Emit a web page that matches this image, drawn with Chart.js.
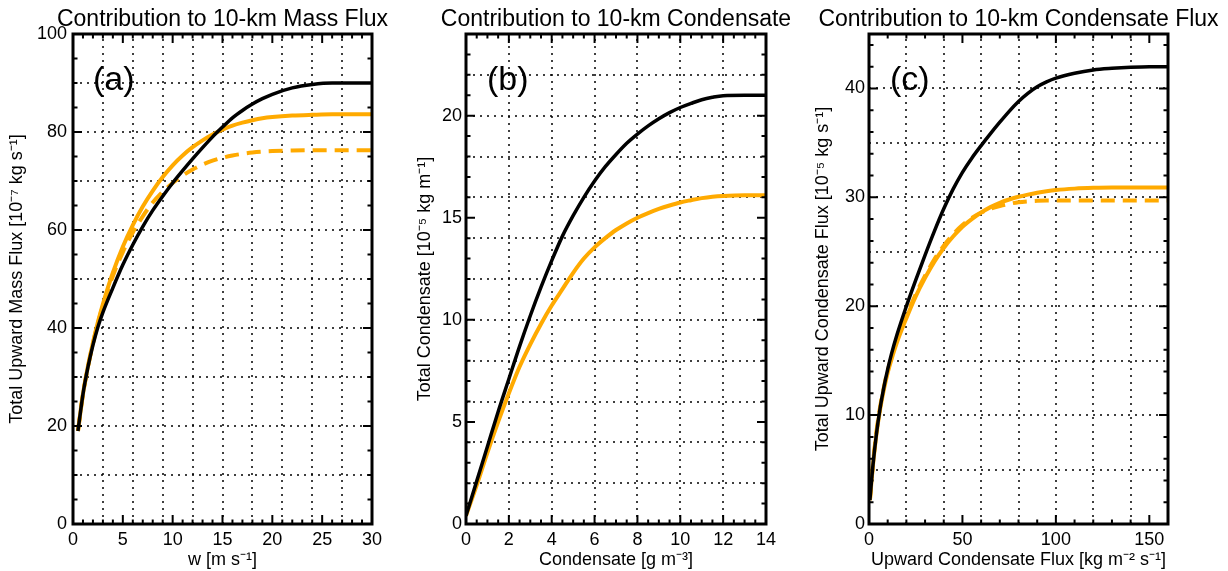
<!DOCTYPE html>
<html lang="en">
<head>
    <meta charset="UTF-8">
    <title>Contribution to 10-km fluxes</title>
    <script src="https://cdn.jsdelivr.net/npm/chart.js"></script>
    <style>
        body { margin: 0; padding: 0; background: #fff; }
        #wrap { position: relative; width: 1228px; height: 571px; }
        canvas { position: absolute; top: 0; }
    </style>
</head>
<body>
    <div id="wrap">
        <canvas id="panel-a" width="400" height="571" style="left:0px"></canvas>
        <canvas id="panel-b" width="410" height="571" style="left:400px"></canvas>
        <canvas id="panel-c" width="418" height="571" style="left:810px"></canvas>
    </div>

    <script>
        // (a) mass flux vs w
        const massX = [0.5, 1, 1.5, 2, 2.5, 3, 4, 5, 6, 7, 8, 9, 10, 11, 12, 13, 14, 15, 16, 17, 18, 19, 20, 22, 24, 26, 28, 30];
        const massBlack = [19, 26.5, 32, 36.5, 40.2, 43.2, 48.2, 52.9, 57.0, 60.7, 64.0, 66.9, 69.6, 72.1, 74.5, 76.8, 79.0, 81.0, 82.9, 84.4, 85.7, 86.8, 87.7, 89.0, 89.7, 90, 90, 90];
        const massOrange = [19, 26.5, 32.2, 37, 41.2, 44.9, 51.3, 56.6, 61.0, 64.8, 68.0, 70.8, 73.2, 75.2, 76.9, 78.3, 79.5, 80.5, 81.3, 81.9, 82.4, 82.8, 83.05, 83.35, 83.5, 83.6, 83.6, 83.6];
        const massOrangeDash = [19, 26.5, 32, 36.8, 40.9, 44.5, 50.6, 55.5, 59.5, 62.8, 65.6, 67.8, 69.6, 71.1, 72.35, 73.35, 74.15, 74.75, 75.2, 75.55, 75.8, 75.98, 76.1, 76.22, 76.28, 76.3, 76.3, 76.3];

        // (b) condensate
        const condX = [0, 0.5, 1, 1.5, 2, 2.5, 3, 3.5, 4, 4.5, 5, 5.5, 6, 6.5, 7, 7.5, 8, 8.5, 9, 9.5, 10, 10.5, 11, 11.5, 12, 13, 14];
        const condBlack = [0.4, 2.1, 3.8, 5.5, 7.1, 8.7, 10.2, 11.6, 12.9, 14.1, 15.1, 16.0, 16.8, 17.5, 18.1, 18.65, 19.1, 19.5, 19.85, 20.15, 20.4, 20.6, 20.78, 20.9, 20.98, 21.0, 21.0];
        const condOrange = [0.4, 1.9, 3.5, 5.0, 6.4, 7.7, 8.8, 9.8, 10.7, 11.5, 12.3, 13.0, 13.55, 14.0, 14.4, 14.72, 15.0, 15.23, 15.43, 15.6, 15.75, 15.86, 15.96, 16.03, 16.07, 16.1, 16.1];

        // (c) condensate flux
        const fluxX = [0.5, 2, 4, 6, 8, 10, 12, 15, 20, 25, 30, 35, 40, 45, 50, 55, 60, 65, 70, 75, 80, 85, 90, 95, 100, 110, 120, 130, 140, 150, 160];
        const fluxBlack = [2.2, 5.2, 8.3, 10.7, 12.6, 14.2, 15.6, 17.4, 20.0, 22.4, 24.7, 26.9, 28.95, 30.75, 32.3, 33.6, 34.75, 35.85, 36.9, 37.9, 38.8, 39.55, 40.15, 40.6, 40.95, 41.4, 41.7, 41.85, 41.95, 42, 42];
        const fluxOrange = [2.2, 5.2, 8.3, 10.6, 12.4, 13.9, 15.1, 16.7, 18.9, 20.9, 22.6, 24.1, 25.35, 26.4, 27.3, 28.0, 28.6, 29.1, 29.5, 29.8, 30.05, 30.25, 30.42, 30.56, 30.67, 30.8, 30.87, 30.9, 30.9, 30.9, 30.9];
        const fluxOrangeDash = [2.2, 5.3, 8.5, 10.8, 12.6, 14.1, 15.3, 16.9, 19.1, 21.1, 22.8, 24.3, 25.55, 26.6, 27.45, 28.1, 28.6, 28.95, 29.2, 29.4, 29.55, 29.63, 29.68, 29.7, 29.7, 29.7, 29.7, 29.7, 29.7, 29.7, 29.7];

        const ORANGE = "rgb(255, 170, 0)";
        const FONT = "'Liberation Sans', Arial, Helvetica, sans-serif";

        function pts(xs, ys) {
            return xs.map((x, i) => ({ x: x, y: ys[i] }));
        }

        // grid, inward ticks, frame, title and panel letter
        const framePlugin = {
            id: "frame",
            beforeDatasetsDraw(chart, args, o) {
                const { ctx, chartArea: a, scales: { x, y } } = chart;
                ctx.save();
                ctx.strokeStyle = "#000";
                ctx.lineWidth = 1.5;
                ctx.setLineDash([2, 5]);
                for (let i = 1; i * o.gx < x.max - 1e-9; i++) {
                    const px = Math.round(x.getPixelForValue(i * o.gx));
                    ctx.beginPath(); ctx.moveTo(px, a.bottom); ctx.lineTo(px, a.top); ctx.stroke();
                }
                for (let i = 1; i * o.gy < y.max - 1e-9; i++) {
                    const py = Math.round(y.getPixelForValue(i * o.gy));
                    ctx.beginPath(); ctx.moveTo(a.left, py); ctx.lineTo(a.right, py); ctx.stroke();
                }
                ctx.restore();
            },
            afterDatasetsDraw(chart, args, o) {
                const { ctx, chartArea: a, scales: { x, y } } = chart;
                ctx.save();
                ctx.strokeStyle = "#000";
                ctx.lineWidth = 2;
                ctx.setLineDash([]);
                for (let i = 1; i * o.mx < x.max - 1e-9; i++) {
                    const v = i * o.mx;
                    const len = Math.abs(v / o.Mx - Math.round(v / o.Mx)) < 1e-6 ? 9 : 4.5;
                    const px = x.getPixelForValue(v);
                    ctx.beginPath();
                    ctx.moveTo(px, a.bottom); ctx.lineTo(px, a.bottom - len);
                    ctx.moveTo(px, a.top); ctx.lineTo(px, a.top + len);
                    ctx.stroke();
                }
                for (let i = 1; i * o.my < y.max - 1e-9; i++) {
                    const v = i * o.my;
                    const len = Math.abs(v / o.My - Math.round(v / o.My)) < 1e-6 ? 9 : 4.5;
                    const py = y.getPixelForValue(v);
                    ctx.beginPath();
                    ctx.moveTo(a.left, py); ctx.lineTo(a.left + len, py);
                    ctx.moveTo(a.right, py); ctx.lineTo(a.right - len, py);
                    ctx.stroke();
                }
                ctx.lineWidth = 3;
                ctx.strokeRect(a.left, a.top, a.right - a.left, a.bottom - a.top);

                ctx.fillStyle = "#000";
                ctx.textAlign = "center";
                ctx.textBaseline = "alphabetic";
                ctx.font = "23px " + FONT;
                ctx.fillText(o.title, (a.left + a.right) / 2, 26);

                ctx.textAlign = "left";
                ctx.font = "34px " + FONT;
                ctx.fillText(o.letter, a.left + o.letterDx, 90);
                ctx.restore();
            }
        };

        function makePanel(id, cfg) {
            const canvas = document.getElementById(id);
            const datasets = cfg.series.map(s => ({
                data: pts(cfg.xs, s.ys),
                borderColor: s.color,
                borderWidth: s.color === ORANGE ? 4 : 3.5,
                borderDash: s.dash || [],
                pointRadius: 0,
                fill: false,
                cubicInterpolationMode: "monotone"
            }));
            return new Chart(canvas.getContext("2d"), {
                type: "line",
                data: { datasets: datasets },
                plugins: [framePlugin],
                options: {
                    responsive: false,
                    animation: false,
                    events: [],
                    layout: {
                        autoPadding: false,
                        padding: { top: 34, bottom: 0, left: 0, right: canvas.width - cfg.right }
                    },
                    plugins: {
                        legend: { display: false },
                        tooltip: { enabled: false },
                        frame: cfg.frame
                    },
                    scales: {
                        x: {
                            type: "linear",
                            min: cfg.xMin, max: cfg.xMax,
                            grid: { display: false, drawTicks: false },
                            border: { display: false },
                            ticks: {
                                stepSize: cfg.xStep, includeBounds: false,
                                color: "#000", padding: 5, maxRotation: 0,
                                font: { family: FONT, size: 18 }
                            },
                            title: {
                                display: true, text: cfg.xTitle, color: "#000",
                                font: { family: FONT, size: 18 },
                                padding: { top: 0, bottom: 0 }
                            },
                            afterFit: s => { s.height = 571 - 524; }
                        },
                        y: {
                            type: "linear",
                            min: 0, max: cfg.yMax,
                            grid: { display: false, drawTicks: false },
                            border: { display: false },
                            ticks: {
                                stepSize: cfg.yStep, includeBounds: false,
                                color: "#000", padding: cfg.yPad,
                                font: { family: FONT, size: 18 }
                            },
                            title: {
                                display: true, text: cfg.yTitle, color: "#000",
                                font: { family: FONT, size: 18 },
                                padding: { top: cfg.yTitlePad, bottom: 0 }
                            },
                            afterFit: s => { s.width = cfg.left; }
                        }
                    }
                }
            });
        }

        makePanel("panel-a", {
            xs: massX, xMin: 0, xMax: 30, xStep: 5, yMax: 100, yStep: 20,
            left: 73, right: 372, yPad: 6, yTitlePad: 6,
            xTitle: "w [m s\u207B\u00B9]",
            yTitle: "Total Upward Mass Flux [10\u207B\u2077 kg s\u207B\u00B9]",
            series: [
                { ys: massBlack, color: "#000" },
                { ys: massOrangeDash, color: ORANGE, dash: [14, 8] },
                { ys: massOrange, color: ORANGE }
            ],
            frame: { gx: 3, gy: 10, mx: 1, Mx: 5, my: 5, My: 20, title: "Contribution to 10-km Mass Flux", letter: "(a)", letterDx: 20 }
        });

        makePanel("panel-b", {
            xs: condX, xMin: 0, xMax: 14, xStep: 2, yMax: 24, yStep: 5,
            left: 66, right: 366, yPad: 4, yTitlePad: 14,
            xTitle: "Condensate [g m\u207B\u00B3]",
            yTitle: "Total Condensate [10\u207B\u2075 kg m\u207B\u00B9]",
            series: [
                { ys: condBlack, color: "#000" },
                { ys: condOrange, color: ORANGE }
            ],
            frame: { gx: 2, gy: 2, mx: 0.5, Mx: 2, my: 1, My: 5, title: "Contribution to 10-km Condensate", letter: "(b)", letterDx: 21 }
        });

        makePanel("panel-c", {
            xs: fluxX, xMin: 0, xMax: 160, xStep: 50, yMax: 45, yStep: 10,
            left: 59, right: 358, yPad: 4, yTitlePad: 2,
            xTitle: "Upward Condensate Flux [kg m\u207B\u00B2 s\u207B\u00B9]",
            yTitle: "Total Upward Condensate Flux [10\u207B\u2075 kg s\u207B\u00B9]",
            series: [
                { ys: fluxBlack, color: "#000" },
                { ys: fluxOrangeDash, color: ORANGE, dash: [14, 8] },
                { ys: fluxOrange, color: ORANGE }
            ],
            frame: { gx: 20, gy: 5, mx: 10, Mx: 50, my: 2, My: 10, title: "Contribution to 10-km Condensate Flux", letter: "(c)", letterDx: 21 }
        });
    </script>
</body>
</html>
